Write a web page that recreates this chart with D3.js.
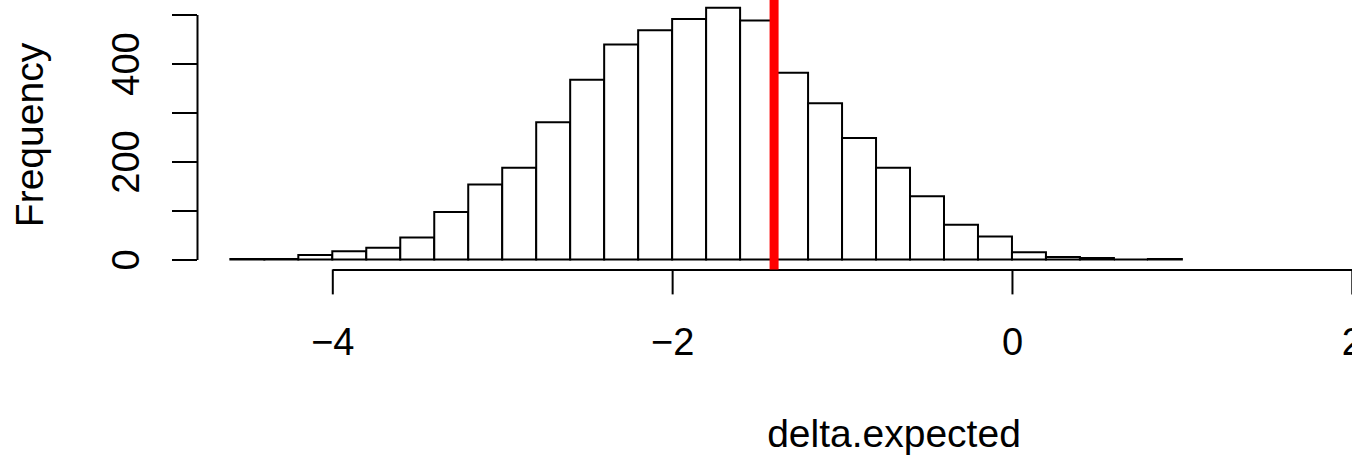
<!DOCTYPE html>
<html>
<head>
<meta charset="utf-8">
<script src="https://cdn.jsdelivr.net/npm/d3@7"></script>
<style>
  html, body { margin: 0; padding: 0; background: #fff; }
  svg { display: block; }
  text { font-family: "Liberation Sans", Arial, Helvetica, sans-serif; fill: #000; }
</style>
</head>
<body>
<svg id="chart" width="1352" height="460"></svg>
<script>
// ---- data ----
const binStarts = [-4.6, -4.4, -4.2, -4.0, -3.8, -3.6, -3.4, -3.2, -3.0, -2.8,
                   -2.6, -2.4, -2.2, -2.0, -1.8, -1.6, -1.4, -1.2, -1.0, -0.8,
                   -0.6, -0.4, -0.2, 0.0, 0.2, 0.4, 0.6, 0.8];
const binWidth = 0.2;
const counts = [1, 1, 9, 17, 24, 45, 97, 153, 187, 280,
                367, 439, 468, 491, 514, 488, 381, 319, 248, 187,
                129, 71, 47, 15, 5, 3, 0, 1];
const xTicks = [-4, -2, 0, 2];
const yTicks = [0, 100, 200, 300, 400, 500];
const yTickLabels = [0, 200, 400];
const refLine = -1.4;
const xLabel = "delta.expected";
const yLabel = "Frequency";

// ---- layout ----
const svg = d3.select("#chart");
const x = d3.scaleLinear().domain([-4, 2]).range([332.3, 1351.8]);
const y = d3.scaleLinear().domain([0, 500]).range([259.5, 14.5]);
const plotBottom = 269.4;
const plotLeft = 197;
const fontSize = 38;
const lw = 2;

// bars (as closed paths so zero-count bins still show as a line)
svg.append("g").selectAll("path")
  .data(binStarts.map((b, i) => ({ x0: b, x1: b + binWidth, n: counts[i] })))
  .join("path")
  .attr("d", d => {
    const l = x(d.x0), r = x(d.x1), t = y(d.n), b = y(0);
    return `M${l},${b}L${l},${t}L${r},${t}L${r},${b}Z`;
  })
  .attr("fill", "#fff")
  .attr("stroke", "#000")
  .attr("stroke-width", lw)
  .attr("stroke-linejoin", "miter");

// x axis
const xAxis = d3.axisBottom(x).tickValues(xTicks).tickSize(25).tickSizeOuter(0)
  .tickFormat(d => d < 0 ? "\u2212" + Math.abs(d) : String(d));
const gx = svg.append("g").attr("transform", `translate(0,${plotBottom})`).call(xAxis);
gx.select(".domain").attr("stroke", "#000").attr("stroke-width", lw);
gx.selectAll(".tick line").attr("stroke", "#000").attr("stroke-width", lw);
gx.selectAll(".tick text")
  .attr("y", 355 - plotBottom).attr("dy", 0)
  .attr("font-size", fontSize).attr("fill", "#000")
  .style("font-family", '"Liberation Sans", Arial, sans-serif');

// y axis
const yAxis = d3.axisLeft(y).tickValues(yTicks).tickSize(25).tickSizeOuter(0)
  .tickFormat(d => yTickLabels.includes(d) ? String(d) : "");
const gy = svg.append("g").attr("transform", `translate(${plotLeft},0)`).call(yAxis);
gy.select(".domain").attr("stroke", "#000").attr("stroke-width", lw);
gy.selectAll(".tick line").attr("stroke", "#000").attr("stroke-width", lw);
gy.selectAll(".tick text")
  .attr("x", 0).attr("y", 0).attr("dy", 0)
  .attr("text-anchor", "middle")
  .attr("transform", `translate(${139 - plotLeft},0) rotate(-90)`)
  .attr("font-size", fontSize).attr("fill", "#000")
  .style("font-family", '"Liberation Sans", Arial, sans-serif');

// reference line
svg.append("line")
  .attr("x1", x(refLine)).attr("x2", x(refLine))
  .attr("y1", -5).attr("y2", plotBottom)
  .attr("stroke", "#ff0000").attr("stroke-width", 9);

// axis titles
svg.append("text")
  .attr("x", 894).attr("y", 447)
  .attr("text-anchor", "middle")
  .attr("font-size", 39)
  .text(xLabel);

svg.append("text")
  .attr("transform", "translate(43,135) rotate(-90)")
  .attr("text-anchor", "middle")
  .attr("font-size", 39)
  .text(yLabel);
</script>
</body>
</html>
